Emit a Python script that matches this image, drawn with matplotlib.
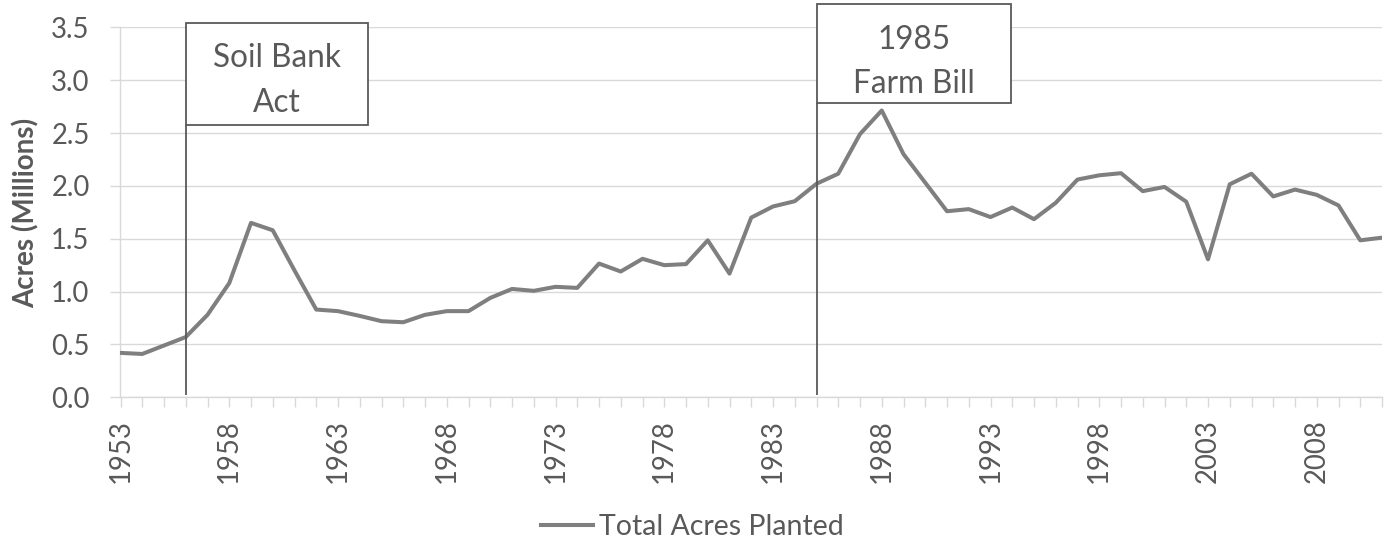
import matplotlib
matplotlib.use("Agg")
import matplotlib.pyplot as plt
from matplotlib.patches import Rectangle

## data
years = list(range(1953, 2012))
acres = [0.42, 0.41, 0.49, 0.57, 0.78, 1.08, 1.65, 1.58, 1.20, 0.83,
         0.815, 0.77, 0.72, 0.71, 0.78, 0.815, 0.815, 0.94,
         1.025, 1.007, 1.045, 1.035, 1.265, 1.19, 1.31, 1.25, 1.26, 1.485,
         1.17, 1.70, 1.805, 1.855, 2.02, 2.115, 2.49,
         2.713, 2.30, 2.03, 1.76, 1.78, 1.705, 1.795, 1.685, 1.84, 2.06,
         2.10, 2.12, 1.95, 1.99, 1.85, 1.305, 2.015, 2.115, 1.90, 1.965,
         1.915, 1.815, 1.485, 1.51]
series_name = "Total Acres Planted"
y_ticks = [0.0, 0.5, 1.0, 1.5, 2.0, 2.5, 3.0, 3.5]
x_labels = [str(y) if (y - 1953) % 5 == 0 else "" for y in years]

event_years = [1956, 1985]
event_text = [["Soil Bank", "Act"], ["1985", "Farm Bill"]]

## style
plt.rcParams["font.family"] = ["Lato", "DejaVu Sans"]
txt = "#595959"
grid = "#d9d9d9"
line_col = "#7f7f7f"

fig = plt.figure(figsize=(13.9, 5.39), dpi=100)
ax = fig.add_axes([120.5 / 1390, 141.7 / 539, (1382 - 120.5) / 1390, (397.3 - 27.3) / 539])

ax.plot(years, acres, color=line_col, lw=2.9, solid_joinstyle="round",
        label=series_name, zorder=3)

ax.set_xlim(1953, 2011)
ax.set_ylim(0, 3.5)
ax.set_yticks(y_ticks)
ax.set_yticklabels([f"{v:.1f}" for v in y_ticks])
ax.set_xticks(years)
ax.set_xticklabels(x_labels, rotation=90)

ax.grid(axis="y", color=grid, lw=1.0)
ax.set_axisbelow(True)
for s in ["top", "right"]:
    ax.spines[s].set_visible(False)
for s in ["left", "bottom"]:
    ax.spines[s].set_color(grid)
    ax.spines[s].set_linewidth(1.0)
ax.tick_params(axis="both", colors=grid, length=7.2, width=1.0, labelcolor=txt,
               labelsize=19.8)
ax.tick_params(axis="y", pad=15)
ax.tick_params(axis="x", pad=8.5)

fig.text(26.5 / 1390, 1 - 212.5 / 539, "Acres (Millions)", rotation=90,
         ha="center", va="center", fontsize=20, fontweight="bold", color=txt)

## event boxes
box_w = [8.4, 8.93]
box_y = [(2.578, 3.537), (2.788, 3.718)]
base_y = [(3.122, 2.697), (3.296, 2.876)]
for yr, lines, w, (b0, b1), bl in zip(event_years, event_text, box_w, box_y, base_y):
    ax.vlines(yr, 0.02, b0, color=txt, lw=1.3, zorder=4)
    ax.add_patch(Rectangle((yr, b0), w, b1 - b0, fill=True, fc="white",
                           ec=txt, lw=1.3, clip_on=False, zorder=5))
    for t, by in zip(lines, bl):
        ax.text(yr + w / 2, by, t, ha="center", va="baseline", fontsize=22.7,
                color=txt, zorder=6, clip_on=False)

ax.legend(loc="center", bbox_to_anchor=(692.5 / 1390, 12.3 / 539),
          bbox_transform=fig.transFigure, frameon=False, fontsize=20.5,
          handlelength=1.83, handletextpad=0.2, borderpad=0, labelcolor=txt)

fig.savefig("out.png", dpi=100)
